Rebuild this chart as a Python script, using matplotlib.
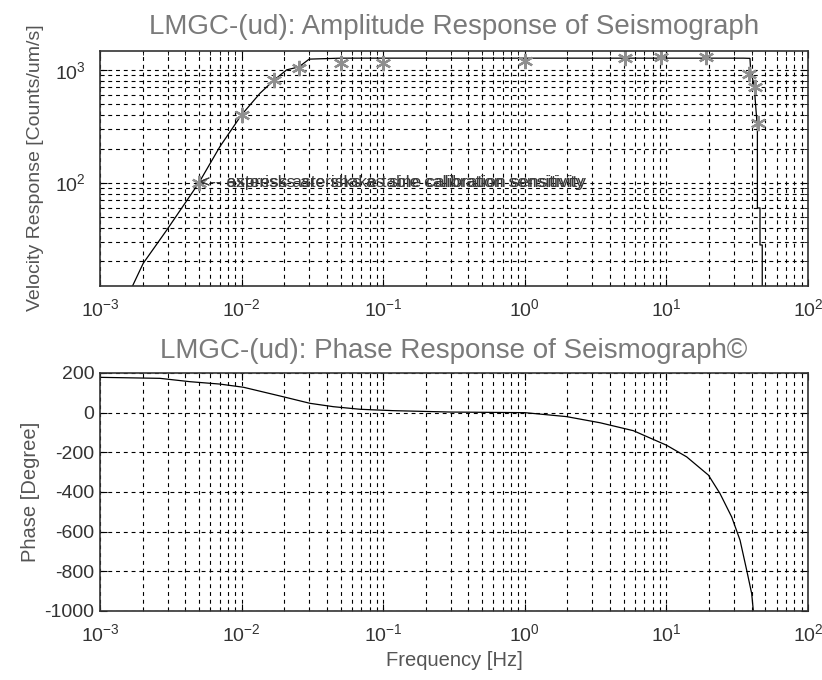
import numpy as np
import matplotlib
matplotlib.use("Agg")
from matplotlib import pyplot as plt
from matplotlib.ticker import LogLocator, FixedLocator, NullFormatter

plt.rcParams['font.family'] = ['Liberation Sans', 'DejaVu Sans']
plt.rcParams['mathtext.fontset'] = 'custom'
plt.rcParams['mathtext.rm'] = 'Liberation Sans'
plt.rcParams['axes.unicode_minus'] = False

# amplitude response curve
amp_freq = [0.0017, 0.00202, 0.00296, 0.005, 0.00703, 0.01, 0.0135, 0.017, 0.0208,
            0.0254, 0.030, 0.05, 1.0, 10.0, 34.9, 38.9, 39.4, 41.6, 43.0, 43.9,
            43.9, 45.8, 45.8, 47.5, 47.5]
amp_val = [12.2, 19.3, 38, 100, 209, 400, 621, 815, 1000,
           1063, 1245, 1270, 1270, 1270, 1270, 1265, 965, 736, 426, 303,
           59.6, 59.6, 28, 28, 12.2]

# sine calibration points (asterisks)
cal_freq = [0.005, 0.01, 0.017, 0.0254, 0.05, 0.1, 1.0, 5.1, 9.1, 19.0, 38.5, 42.3, 44.0]
cal_val = [100, 400, 815, 1035, 1147, 1147, 1202, 1270, 1312, 1300, 922, 711, 340]

# phase response curve
ph_freq = [0.001, 0.00265, 0.00433, 0.00703, 0.0103, 0.0197, 0.0304, 0.0445, 0.0686,
           0.118, 0.3, 1.0, 1.97, 3.4, 5.84, 10.0, 13.9, 19.8, 23.9, 28.9, 33.1,
           36.9, 40.0, 41.1]
ph_val = [178, 173, 156, 144, 128, 80, 47, 30, 17,
          10, 3, 0, -20, -51, -91, -164, -223, -315, -408, -526, -643,
          -795, -912, -1000]

ph_ticks = [-1000, -800, -600, -400, -200, 0, 200]

note1 = "<-- express asterisks as sine calibration sensitivity"
note2 = "<-- asterisks are shake table calibration sensitivity"

title_c = "#7a7a7a"
label_c = "#555555"
tick_c = "#333333"
grid_kw = dict(color="black", linestyle=(0, (3.5, 3.5)), linewidth=0.8)

fig = plt.figure(figsize=(8.22, 6.8), dpi=100)
ax1 = fig.add_axes([0.1217, 0.5799, 0.8613, 0.3456])
ax2 = fig.add_axes([0.1217, 0.1015, 0.8613, 0.3500])

# top panel
ax1.loglog(amp_freq, amp_val, color="black", linewidth=0.9)
ax1.plot(cal_freq, cal_val, linestyle="none", marker=(6, 2, 0), markersize=11,
         markeredgecolor="#8f8f8f", markeredgewidth=1.6)
ax1.set_xlim(1e-3, 1e2)
ax1.set_ylim(12.2, 1480)
ax1.text(0.0051, 100, note1, fontsize=12.5, color="#3a3a3a", va="center", ha="left")
ax1.text(0.0051, 100, note2, fontsize=12.5, color="#3a3a3a", va="center", ha="left")
ax1.set_title("LMGC-(ud): Amplitude Response of Seismograph", fontsize=20,
              color=title_c, pad=12)
ax1.set_ylabel("Velocity Response [Counts/um/s]", fontsize=14, color=label_c, labelpad=8)

# bottom panel
ax2.semilogx(ph_freq, ph_val, color="black", linewidth=0.9)
ax2.set_xlim(1e-3, 1e2)
ax2.set_ylim(-1000, 200)
ax2.yaxis.set_major_locator(FixedLocator(ph_ticks))
ax2.set_title("LMGC-(ud): Phase Response of Seismograph\u00a9", fontsize=20,
              color=title_c, pad=11)
ax2.set_ylabel("Phase [Degree]", fontsize=14.5, color=label_c, labelpad=3)
ax2.set_xlabel("Frequency [Hz]", fontsize=14.5, color=label_c, labelpad=4)

for ax in (ax1, ax2):
    ax.xaxis.set_major_locator(LogLocator(base=10, numticks=10))
    ax.xaxis.set_minor_locator(LogLocator(base=10, subs=np.arange(2, 10), numticks=10))
    ax.xaxis.set_minor_formatter(NullFormatter())
    ax.grid(True, which="major", axis="both", **grid_kw)
    ax.grid(True, which="minor", axis="x", **grid_kw)
    ax.tick_params(which="both", direction="in", top=True, right=True,
                   colors="black", labelcolor=tick_c, labelsize=14)
    ax.tick_params(which="major", length=5, pad=9)
    ax.tick_params(which="minor", length=3)
    for s in ax.spines.values():
        s.set_linewidth(1.2)
        s.set_color("#333333")

ax1.yaxis.set_major_locator(LogLocator(base=10, numticks=10))
ax1.yaxis.set_minor_locator(LogLocator(base=10, subs=np.arange(2, 10), numticks=10))
ax1.yaxis.set_minor_formatter(NullFormatter())
ax1.grid(True, which="minor", axis="y", **grid_kw)
ax1.tick_params(axis="y", pad=10)
ax2.tick_params(axis="y", pad=4)

fig.savefig("out.png", dpi=100)
